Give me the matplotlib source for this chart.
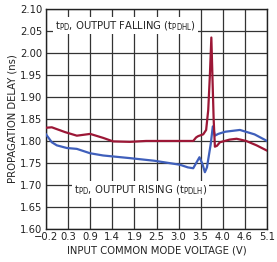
import matplotlib
matplotlib.use("Agg")
import numpy as np
import matplotlib.pyplot as plt
from matplotlib import font_manager

# pick a narrow face if one is installed
names = set(f.name for f in font_manager.fontManager.ttflist)
stretches = set((f.name, f.stretch) for f in font_manager.fontManager.ttflist)
if 'Liberation Sans Narrow' in names:
    fam = 'Liberation Sans Narrow'
    stretch = 'normal'
elif any(n == 'DejaVu Sans' and s == 'condensed' for n, s in stretches):
    fam = 'DejaVu Sans'
    stretch = 'condensed'
else:
    fam = 'DejaVu Sans'
    stretch = 'normal'
plt.rcParams['font.family'] = [fam, 'DejaVu Sans']
plt.rcParams['font.stretch'] = stretch
plt.rcParams['mathtext.fontset'] = 'custom'
plt.rcParams['mathtext.rm'] = fam + ':stretch=' + stretch
plt.rcParams['mathtext.it'] = fam + ':stretch=' + stretch

# output falling (tPDHL)
x_fall = [-0.2, -0.06, 0.26, 0.54, 0.86, 1.17, 1.41, 1.81, 2.2, 2.6, 3.0, 3.33,
          3.40, 3.45, 3.57, 3.64, 3.69, 3.73, 3.765, 3.79, 3.82, 3.85, 3.90,
          3.97, 4.2, 4.37, 4.6, 4.85, 5.1]
y_fall = [1.830, 1.831, 1.820, 1.812, 1.816, 1.807, 1.799, 1.798, 1.800, 1.800,
          1.800, 1.800, 1.808, 1.811, 1.815, 1.825, 1.870, 1.950, 2.035, 1.950,
          1.850, 1.787, 1.789, 1.797, 1.803, 1.805, 1.800, 1.790, 1.778]

# output rising (tPDLH)
x_rise = [-0.2, -0.06, 0.06, 0.30, 0.54, 0.86, 1.17, 1.81, 2.4, 3.01, 3.2,
          3.33, 3.48, 3.55, 3.61, 3.66, 3.75, 3.80, 3.85, 3.93, 4.1, 4.45,
          4.8, 5.1]
y_rise = [1.815, 1.797, 1.790, 1.784, 1.782, 1.772, 1.767, 1.761, 1.755, 1.746,
          1.740, 1.738, 1.763, 1.748, 1.729, 1.740, 1.793, 1.833, 1.812, 1.816,
          1.821, 1.825, 1.815, 1.800]

xtick_labels = ['\u22120.2', '0.3', '0.9', '1.4', '1.9', '2.5', '3.0', '3.5',
                '4.0', '4.6', '5.1']
yticks = [1.60, 1.65, 1.70, 1.75, 1.80, 1.85, 1.90, 1.95, 2.00, 2.05, 2.10]

fs = 8 if stretch == 'condensed' or fam != 'DejaVu Sans' else 7.5

fig = plt.figure(figsize=(2.77, 2.62), dpi=100)
ax = fig.add_axes([0.166, 0.126, 0.798, 0.840])

red = '#9c1736'
blue = '#3f5fbb'
ax.plot(x_rise, y_rise, color=blue, lw=1.6, zorder=3)
ax.plot(x_fall, y_fall, color=red, lw=1.6, zorder=3)

ax.set_xlim(-0.2, 5.1)
ax.set_ylim(1.60, 2.10)
ax.set_xticks(np.linspace(-0.2, 5.1, 11))
ax.set_xticklabels(xtick_labels)
ax.set_yticks(yticks)
ax.set_yticklabels(["%.2f" % v for v in yticks])
ax.tick_params(length=0, labelsize=fs, pad=2.5, colors='#222222')
ax.grid(True, color='#333333', lw=0.9)
ax.set_axisbelow(True)
for s in ax.spines.values():
    s.set_color('#222222')
    s.set_linewidth(1.0)

ax.set_xlabel('INPUT COMMON MODE VOLTAGE (V)', fontsize=fs, labelpad=2, color='#222222')
ax.set_ylabel('PROPAGATION DELAY (ns)', fontsize=fs, labelpad=2, color='#222222')

box = dict(facecolor='white', edgecolor='none', pad=1.2)
ax.text(0.02, 2.055, r'$\mathrm{t_{PD}}$, OUTPUT FALLING ($\mathrm{t_{PDHL}}$)',
        fontsize=fs, va='baseline', ha='left', bbox=box, zorder=2, color='#222222')
ax.text(0.47, 1.682, r'$\mathrm{t_{PD}}$, OUTPUT RISING ($\mathrm{t_{PDLH}}$)',
        fontsize=fs, va='baseline', ha='left', bbox=box, zorder=2, color='#222222')

fig.savefig('out.png', dpi=100)
